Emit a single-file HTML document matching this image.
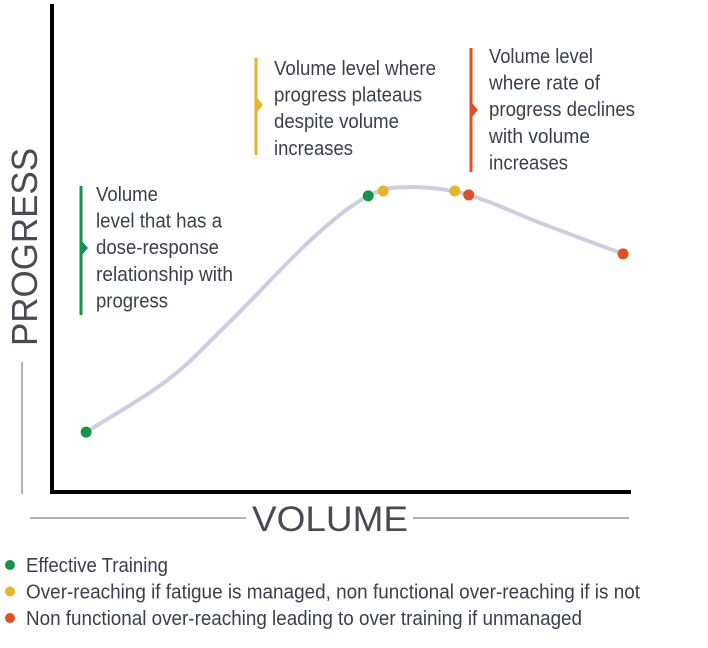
<!DOCTYPE html>
<html><head><meta charset="utf-8"><style>
html,body{margin:0;padding:0;background:#fff;}
svg{display:block;}
text{font-family:"Liberation Sans Narrow","Liberation Sans",sans-serif;fill:#3b3f4b;}
</style></head><body>
<svg id="chart" width="708" height="648" viewBox="0 0 708 648" xmlns="http://www.w3.org/2000/svg">
<g id="axes">
<line x1="52" y1="4" x2="52" y2="494" stroke="#000" stroke-width="4"/>
<line x1="50" y1="492" x2="631" y2="492" stroke="#000" stroke-width="4"/>
<line x1="22" y1="362" x2="22" y2="494" stroke="#999" stroke-width="1.5"/>
<text transform="translate(37,346) rotate(-90)" font-family="Liberation Sans" font-size="36" textLength="198" lengthAdjust="spacingAndGlyphs" style="fill:#4a4a52">PROGRESS</text>
<line x1="30" y1="518" x2="246" y2="518" stroke="#999" stroke-width="1.5"/>
<line x1="413" y1="518" x2="629" y2="518" stroke="#999" stroke-width="1.5"/>
<text x="252" y="531" font-family="Liberation Sans" font-size="35" textLength="156" lengthAdjust="spacingAndGlyphs" style="fill:#4a4a52">VOLUME</text>
</g>
<g id="plot"></g>
<g id="annotations"></g>
<g id="legend"></g>
</svg>
<script>
const curveX = [5.9, 20, 30.8, 45, 54.7, 61.9, 72.1, 85, 98.8];
const curveY = [12.3, 23, 35, 52, 60.8, 62.6, 61, 55, 48.9];
const markerX = [5.9, 54.7, 57.3, 69.7, 72.1, 98.8];
const markerY = [12.3, 60.8, 61.8, 61.8, 61.0, 48.9];
const markerCat = [0, 0, 1, 1, 2, 2];
const catColors = ["#13944a", "#e4b62b", "#dc5128"];
const legendLabels = ["Effective Training", "Over-reaching if fatigue is managed, non functional over-reaching if is not", "Non functional over-reaching leading to over training if unmanaged"];
const legendWidths = [142, 614, 556];

const NS = "http://www.w3.org/2000/svg";
function sx(v){ return 52 + v / 100 * 578; }
function sy(v){ return 492 - v / 100 * 487; }
function mk(tag, attrs, parent){ const e = document.createElementNS(NS, tag); for (const k in attrs) e.setAttribute(k, attrs[k]); parent.appendChild(e); return e; }

const plot = document.getElementById('plot');
const pts = curveX.map((x, i) => [sx(x), sy(curveY[i])]);
let d = "M" + pts[0][0] + "," + pts[0][1];
for (let i = 0; i < pts.length - 1; i++) {
  const p0 = pts[Math.max(0, i - 1)], p1 = pts[i], p2 = pts[i + 1], p3 = pts[Math.min(pts.length - 1, i + 2)];
  const c1 = [p1[0] + (p2[0] - p0[0]) / 6, p1[1] + (p2[1] - p0[1]) / 6];
  const c2 = [p2[0] - (p3[0] - p1[0]) / 6, p2[1] - (p3[1] - p1[1]) / 6];
  d += " C" + c1[0] + "," + c1[1] + " " + c2[0] + "," + c2[1] + " " + p2[0] + "," + p2[1];
}
const curve = mk('path', {d: d, fill: 'none', stroke: '#cfcde0', 'stroke-width': 4, 'stroke-linecap': 'round'}, plot);


markerX.forEach((x, i) => {
  const c = mk('circle', {cx: sx(x), cy: sy(markerY[i]), r: 5.5, fill: catColors[markerCat[i]]}, plot);
  
  
});

const ann = document.getElementById('annotations');
const notes = [
  {x: 81, y1: 186, y2: 315, ay: 248, color: catColors[0], tx: 96, lines: [["Volume",62],["level that has a",126],["dose-response",123],["relationship with",137],["progress",72]], y0: 194},
  {x: 256, y1: 58, y2: 155, ay: 105, color: catColors[1], tx: 274, lines: [["Volume level where",162],["progress plateaus",148],["despite volume",125],["increases",79]], y0: 68},
  {x: 471, y1: 48, y2: 172, ay: 110, color: catColors[2], tx: 489, lines: [["Volume level",104],["where rate of",111],["progress declines",146],["with volume",101],["increases",79]], y0: 56}
];
notes.forEach((n) => {
  const g = mk('g', {}, ann);
  
  
  mk('rect', {x: n.x - 1.5, y: n.y1, width: 3, height: n.y2 - n.y1, fill: n.color}, g);
  mk('path', {d: "M" + (n.x + 1) + "," + (n.ay - 7) + " L" + (n.x + 7) + "," + n.ay + " L" + (n.x + 1) + "," + (n.ay + 7) + "Z", fill: n.color}, g);
  n.lines.forEach((l, j) => {
    const t = mk('text', {x: n.tx, y: n.y0 + j * 26.6 + 7, 'font-size': 20, textLength: l[1], lengthAdjust: 'spacingAndGlyphs'}, g);
    t.textContent = l[0];
  });
});

const leg = document.getElementById('legend');
legendLabels.forEach((lab, i) => {
  const g = mk('g', {}, leg);
  
  
  const y = 565 + i * 26.5;
  mk('circle', {cx: 10, cy: y, r: 5, fill: catColors[i]}, g);
  const t = mk('text', {x: 26, y: y + 7, 'font-size': 20, textLength: legendWidths[i], lengthAdjust: 'spacingAndGlyphs'}, g);
  t.textContent = lab;
});
</script>
</body></html>
